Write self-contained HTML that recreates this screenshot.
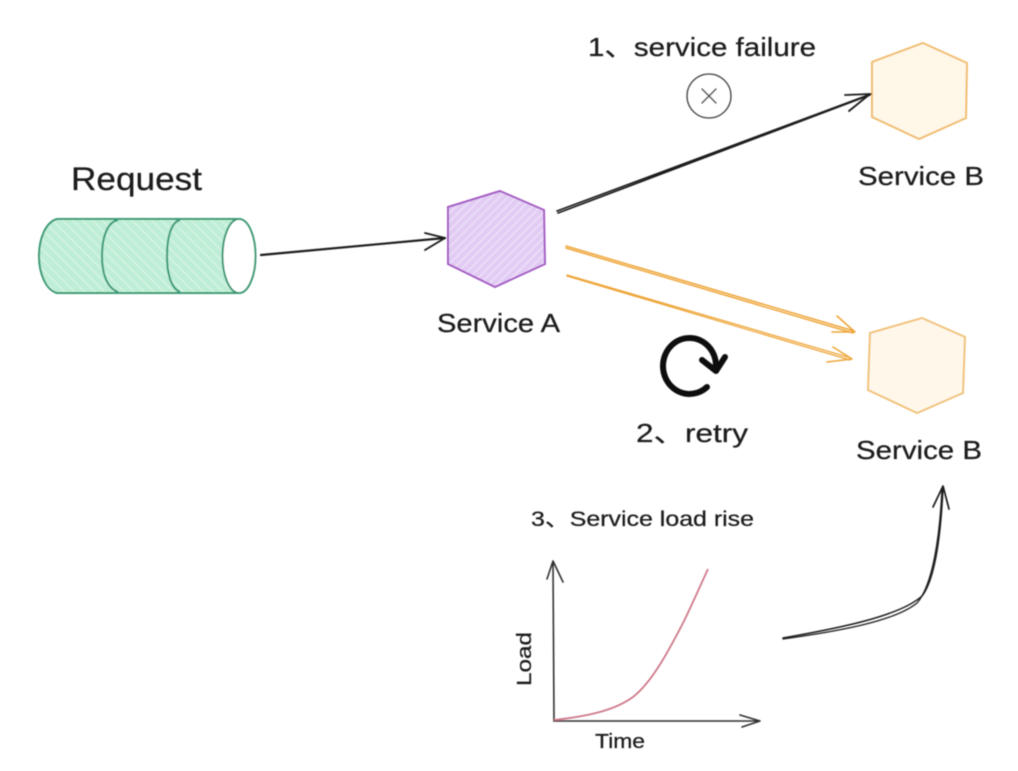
<!DOCTYPE html>
<html><head><meta charset="utf-8"><style>
html,body{margin:0;padding:0;background:#fff}
svg{display:block}
text{font-family:"Liberation Sans","Noto Sans CJK SC",sans-serif;fill:#1c1c1c;stroke:#1c1c1c;stroke-width:.25}
</style></head><body>
<svg width="1018" height="771" viewBox="0 0 1018 771" xmlns="http://www.w3.org/2000/svg">
<defs>
<pattern id="g" width="7" height="7" patternUnits="userSpaceOnUse" patternTransform="rotate(-45)"><rect width="7" height="7" fill="#bfeed6"/><rect width="1" height="7" fill="#dcf6e8"/></pattern>
<pattern id="p" width="6" height="6" patternUnits="userSpaceOnUse" patternTransform="rotate(45)"><rect width="6" height="6" fill="#e2ccf4"/><rect width="1" height="6" fill="#f1e6fa"/></pattern>
<filter id="b" x="-5%" y="-5%" width="110%" height="110%"><feGaussianBlur stdDeviation="0.45"/></filter>
</defs>
<rect width="1018" height="771" fill="#fff"/>
<g filter="url(#b)">
<!-- cylinder -->
<path d="M57 219H239V293H57C46 290 39 274 39 256C39 238 46 222 57 219Z" fill="url(#g)" stroke="#379a74" stroke-width="2"/>
<path d="M118 220C107 222 102 238 102 256C102 274 107 288 118 292M180 220C171 222 167 238 167 256C167 274 171 288 180 292" fill="none" stroke="#379a74" stroke-width="2"/>
<ellipse cx="239" cy="256" rx="16.5" ry="37" fill="#fff" stroke="#379a74" stroke-width="2"/>
<!-- hexagons -->
<polygon points="500,191 544,210 545,264 495,287 448,264 448,207" fill="url(#p)" stroke="#a45cc4" stroke-width="2"/>
<polygon points="923,43 967,63 966,118 919,139 872,117 872,62" fill="#fff7e8" stroke="#f0bd70" stroke-width="2"/>
<polygon points="922,318 965,337 963,393 917,413 868,390 870,333" fill="#fff8ea" stroke="#f0c27a" stroke-width="2"/>
<!-- black arrows -->
<g fill="none" stroke="#1c1c1c" stroke-linecap="round" stroke-linejoin="round">
<path d="M261 255L445 238" stroke-width="2.2"/>
<path d="M425 233L445 238L425 250" stroke-width="1.8"/>
<path d="M557 211L871 94M558 213L870 95" stroke-width="1.7"/>
<path d="M845 95L870 94L849 111" stroke-width="1.8"/>
<!-- circle x -->
<circle cx="709" cy="96" r="22" stroke="#444" stroke-width="1.3"/>
<path d="M702 89L716 103M716 89L702 103" stroke="#555" stroke-width="1.3"/>
<!-- retry -->
<path d="M707 387A26.5 28 0 1 1 716 366" stroke="#0c0c0c" stroke-width="6"/>
<path d="M702 360L716 371L725 357" stroke="#0c0c0c" stroke-width="6"/>
<!-- growth arrow -->
<path d="M783 638C840 628 900 616 922 596C936 578 941 530 943 488" stroke-width="1.5"/>
<path d="M783 639C840 631 895 621 917 603C933 585 940 535 942 488" stroke-width="1.3"/>
<path d="M933 507L943 486L949 509" stroke-width="1.7"/>
<!-- chart -->
<path d="M554 721L553 562M547 579L553 561L563 582" stroke-width="1.6" stroke="#333"/>
<path d="M554 721L760 721M740 715L760 721L742 727" stroke-width="1.6" stroke="#333"/>
</g>
<path d="M554 720C590 716 615 710 633 697C652 682 668 652 683 623C692 605 700 586 708 569" fill="none" stroke="#cf7a8a" stroke-width="1.8"/>
<!-- orange arrows -->
<g fill="none" stroke="#eea63a" stroke-linecap="round" stroke-linejoin="round">
<path d="M566 246L854 331M566 248L853 333" stroke-width="1.5"/>
<path d="M837 316L855 332L832 332" stroke-width="1.6"/>
<path d="M567 275L851 358M567 276L850 360" stroke-width="1.3"/>
<path d="M833 347L852 359L827 362" stroke-width="1.6"/>
</g>
<!-- labels -->
<text x="71" y="190" font-size="32" textLength="131" lengthAdjust="spacingAndGlyphs">Request</text>
<text x="588" y="56" font-size="26" textLength="228" lengthAdjust="spacingAndGlyphs">1、service failure</text>
<text x="858" y="185" font-size="26" textLength="126" lengthAdjust="spacingAndGlyphs">Service B</text>
<text x="437" y="332" font-size="26" textLength="123" lengthAdjust="spacingAndGlyphs">Service A</text>
<text x="856" y="459" font-size="26" textLength="126" lengthAdjust="spacingAndGlyphs">Service B</text>
<text x="636" y="442" font-size="26" textLength="112" lengthAdjust="spacingAndGlyphs">2、retry</text>
<text x="531" y="526" font-size="21" textLength="223" lengthAdjust="spacingAndGlyphs">3、Service load rise</text>
<text x="595" y="748" font-size="20" textLength="50" lengthAdjust="spacingAndGlyphs">Time</text>
<text transform="translate(531 686) rotate(-90)" font-size="20" textLength="54" lengthAdjust="spacingAndGlyphs">Load</text>
</g>
</svg>
</body></html>
